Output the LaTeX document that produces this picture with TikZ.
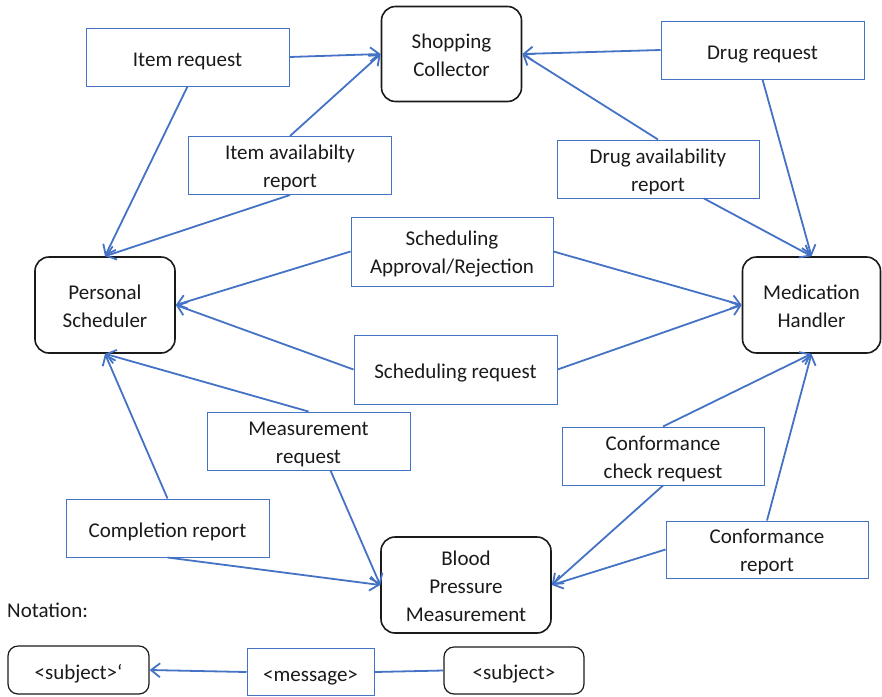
\documentclass[tikz,border=0pt]{standalone}
\usepackage{fontspec}
\setmainfont{Carlito}
\usetikzlibrary{arrows.meta}
\definecolor{msgblue}{HTML}{4472C4}
\definecolor{ink}{HTML}{1A1A1A}
\begin{document}
\begin{tikzpicture}[x=1pt,y=-1pt,
  every node/.style={font=\fontsize{21}{28}\selectfont, text=ink, align=center, inner sep=0pt},
  % a tall invisible strut on the first line sets the text slightly lower in its box
  onerow/.style={execute at begin node={\rule{0pt}{22pt}}},
  % texts of two and three lines: a taller text box sets them lower as well
  tworows/.style={text height=49pt, text depth=5pt},
  threerows/.style={text height=77pt, text depth=5pt},
  subject/.style={draw=ink, line width=1.6pt, rounded corners=14pt},
  message/.style={draw=msgblue, line width=1pt},
  link/.style={draw=msgblue, line width=1.8pt},
  flow/.style={link, -{Straight Barb[length=9pt,width=14pt,line width=1.8pt]}}]
\useasboundingbox (0,0) rectangle (882,696);

% subjects
\node[subject, tworows, minimum width=140pt, minimum height=95pt] (sc) at (451.5,54) {Shopping\\Collector};
\node[subject, tworows, minimum width=140pt, minimum height=96pt] (ps) at (105,305) {Personal\\Scheduler};
\node[subject, tworows, minimum width=138pt, minimum height=96pt] (mh) at (811.5,305) {Medication\\Handler};
\node[subject, threerows, minimum width=170pt, minimum height=96pt] (bpm) at (466,585) {Blood\\Pressure\\Measurement};

% messages
\node[message, onerow, minimum width=203pt, minimum height=58pt] (ir) at (187.5,57) {Item request};
\node[message, onerow, minimum width=203pt, minimum height=58pt] (dr) at (762.5,50) {Drug request};
\node[message, tworows, minimum width=203pt, minimum height=58pt] (ia) at (290,165.5) {Item availabilty\\report};
\node[message, tworows, minimum width=202pt, minimum height=58pt] (da) at (658,169) {Drug availability\\report};
\node[message, tworows, minimum width=202pt, minimum height=69pt] (sa) at (452,251.5) {Scheduling\\Approval/Rejection};
\node[message, onerow, minimum width=203pt, minimum height=69pt] (sr) at (455.5,369.5) {Scheduling request};
\node[message, tworows, minimum width=203pt, minimum height=58pt] (mr) at (308.5,441) {Measurement\\request};
\node[message, tworows, minimum width=202pt, minimum height=58pt] (cc) at (663,456) {Conformance\\check request};
\node[message, onerow, minimum width=203pt, minimum height=58pt] (cr) at (167.5,528) {Completion report};
\node[message, tworows, minimum width=202pt, minimum height=57pt] (cf) at (767,549.5) {Conformance\\report};

% item flow
\draw[flow] (ir.east) -- (sc.west);
\draw[flow] (ir.south) -- (ps.north);
\draw[flow] (ia.north) -- (sc.west);
\draw[flow] (ia.south) -- (ps.north);
% drug flow
\draw[flow] (dr.west) -- (sc.east);
\draw[flow] (da.north) -- (sc.east);
\draw[flow] (dr.south) -- (mh.north);
\draw[flow] ([xshift=46pt]da.south) -- (mh.north);
% scheduling
\draw[flow] (sa.west) -- (ps.east);
\draw[flow] (sa.east) -- (mh.west);
\draw[flow] (sr.west) -- (ps.east);
\draw[flow] (sr.east) -- (mh.west);
% measurement
\draw[flow] (mr.north) -- (ps.south);
\draw[flow] ([xshift=22pt]mr.south) -- (bpm.west);
\draw[flow] (cr.north) -- (ps.south);
\draw[flow] (cr.south) -- (bpm.west);
% conformance
\draw[flow] (cc.north) -- (mh.south);
\draw[flow] (cc.south) -- (bpm.east);
\draw[flow] (cf.north) -- (mh.south);
\draw[flow] (cf.west) -- (bpm.east);

% notation
\node[anchor=base west] (nt) at (7,617) {Notation:};
\node[subject, onerow, line width=1.2pt, rounded corners=10pt, minimum width=141pt, minimum height=48pt] (subp) at (78.5,670) {<subject>‘};
\node[message, onerow, minimum width=127pt, minimum height=47pt] (msg) at (310.5,672) {<message>};
\node[subject, onerow, line width=1.2pt, rounded corners=10pt, minimum width=140pt, minimum height=47pt] (sub) at (514,670.5) {<subject>};
\draw[link] (sub.west) -- (msg.east);
\draw[flow] (msg.west) -- (subp.east);
\end{tikzpicture}
\end{document}
